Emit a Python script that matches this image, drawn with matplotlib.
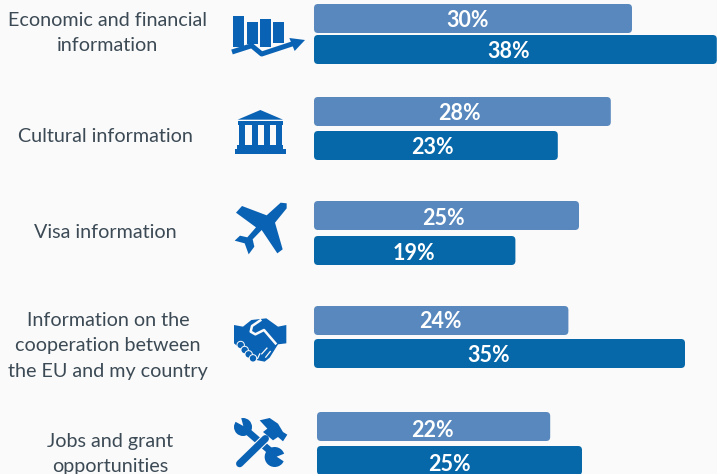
import matplotlib
matplotlib.use("Agg")
import matplotlib.pyplot as plt
from matplotlib.patches import FancyBboxPatch, Polygon, Circle
from matplotlib.lines import Line2D

plt.rcParams['font.family'] = ['Lato', 'DejaVu Sans']

# data
categories = ["Economic and financial\ninformation", "Cultural information", "Visa information",
              "Information on the\ncooperation between\nthe EU and my country", "Jobs and grant\nopportunities"]
light_values = [30, 28, 25, 24, 22]
dark_values = [38, 23, 19, 35, 25]

# layout in pixels
label_x = [107.5, 105.5, 105.5, 108, 110]
label_y = [33, 137, 232, 346, 454]
light_top = [4, 97, 201, 306, 412]
dark_top = [35, 131, 236, 339, 446]
light_text_x = [467.5, 459, 443, 440, 432]
dark_text_x = [509, 432, 414, 489, 449]
text_dy = [2, 2, 2.5, 1.5, 4]
bar_left = [314, 314, 314, 314, 317]
bar_h = 29
px_per_pct = 10.6

LIGHT = "#5888bd"
DARK = "#0668a8"
ICON = "#0a62b4"
BG = "#fafafa"

fig = plt.figure(figsize=(7.17, 4.74), dpi=100, facecolor=BG)
ax = fig.add_axes([0, 0, 1, 1])
ax.set_xlim(0, 717)
ax.set_ylim(474, 0)
ax.axis("off")


def draw_bar(x0, y0, val, color, tx, dy):
    w = val * px_per_pct
    r = 4
    ax.add_patch(FancyBboxPatch((x0 + r, y0 + r), w - 2 * r, bar_h - 2 * r,
                                boxstyle="round,pad=%d,rounding_size=%d" % (r, r),
                                fc=color, ec="none"))
    ax.text(tx, y0 + bar_h / 2 + dy, "%d%%" % val, color="white", fontsize=15.5,
            fontweight="bold", ha="center", va="center")


for i in range(5):
    draw_bar(bar_left[i], light_top[i], light_values[i], LIGHT, light_text_x[i], text_dy[i])
    draw_bar(bar_left[i], dark_top[i], dark_values[i], DARK, dark_text_x[i], text_dy[i])
    ax.text(label_x[i], label_y[i], categories[i], color="#3c4a55", fontsize=14.2, ha="center",
            va="center", linespacing=1.6)


def zp(pts, ox, oy):
    return [(ox + x / 3, oy + y / 3) for x, y in pts]


def poly(pts, ox=220, oy=0, color=ICON):
    ax.add_patch(Polygon(zp(pts, ox, oy), closed=True, fc=color, ec="none"))


def thick(pts, lw, ox=220, oy=0, color=ICON, cap="butt"):
    p = zp(pts, ox, oy)
    ax.add_line(Line2D([a[0] for a in p], [a[1] for a in p], color=color, lw=lw,
                       solid_capstyle=cap, solid_joinstyle="round"))


def dot(x, y, r, ox=220, oy=0, color=ICON):
    ax.add_patch(Circle((ox + x / 3, oy + y / 3), r, fc=color, ec="none"))


# chart icon
for x0, x1, y0, y1 in [(40, 73, 47, 142), (80, 113, 67, 132), (120, 153, 57, 142), (160, 193, 67, 130)]:
    poly([(x0, y0), (x1, y0), (x1, y1), (x0, y1)])
thick([(36, 156), (95, 137), (125, 162), (222, 130)], 3.6)
poly([(208, 114), (255, 120), (224, 153)])

# museum icon
poly([(53, 359), (121, 330), (189, 359)])
poly([(53, 364), (189, 364), (189, 374), (53, 374)])
for x0 in [57, 95, 132, 167]:
    poly([(x0, 374), (x0 + 18, 374), (x0 + 18, 434), (x0, 434)])
poly([(52, 434), (190, 434), (190, 446), (52, 446)])
poly([(44, 447), (198, 447), (198, 463), (44, 463)])

# plane icon
poly([(182, 38), (200, 40), (200, 55), (165, 98), (188, 178), (172, 190), (125, 120), (98, 148), (103, 170),
      (86, 193), (74, 160), (44, 152), (60, 137), (82, 142), (108, 112), (48, 68), (66, 48),
      (140, 76)], 220, 190)

# handshake icon
HX, HY = 228, 315
poly([(18, 30), (45, 35), (70, 15), (115, 10), (150, 35), (175, 30), (175, 85), (150, 88),
      (125, 128), (110, 140), (85, 135), (60, 112), (30, 95), (18, 85)], HX, HY)
for x, y in [(38, 90), (50, 105), (62, 118), (75, 130)]:
    dot(x, y, 4.2, HX, HY, BG)
    dot(x, y, 3.2, HX, HY)
thick([(100, 14), (72, 33), (68, 50), (82, 58), (108, 45), (145, 88)], 1.8, HX, HY, BG)
for a, b in [((100, 118), (118, 98)), ((112, 128), (128, 108)), ((88, 132), (96, 115))]:
    thick([a, b], 0.9, HX, HY, BG)

# tools icon: wrench first, hammer drawn over it
TX, TY = 228, 412
thick([(55, 55), (130, 120)], 5.0, TX, TY)
dot(45, 45, 9.0, TX, TY)
dot(140, 135, 10.0, TX, TY)
poly([(20, 28), (46, 42), (38, 12), (22, 10)], TX, TY, BG)
poly([(176, 122), (146, 134), (170, 150), (182, 135)], TX, TY, BG)
thick([(35, 155), (112, 80)], 6.8, TX, TY, BG)
thick([(35, 155), (112, 80)], 5.2, TX, TY, cap="round")
poly([(95, 25), (125, 18), (150, 35), (165, 60), (178, 68), (165, 88), (150, 75), (135, 85),
      (105, 60), (118, 50)], TX, TY)

fig.savefig("out.png", dpi=100, facecolor=BG)
